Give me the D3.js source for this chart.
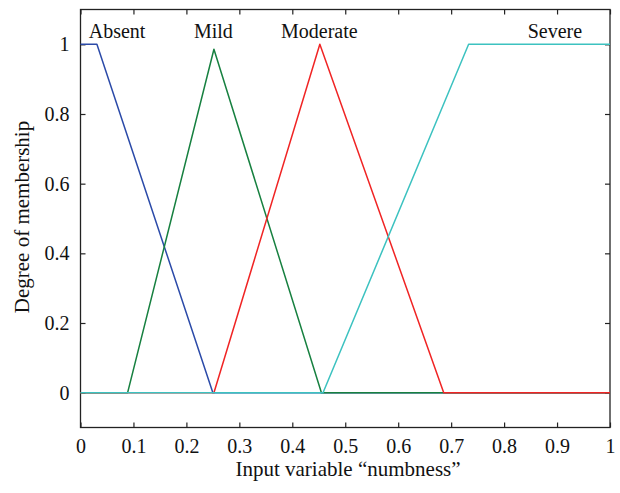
<!DOCTYPE html>
<html>
<head>
<meta charset="utf-8">
<script src="https://cdn.jsdelivr.net/npm/d3@7"></script>
<style>
  html, body { margin: 0; padding: 0; background: #fff; }
  svg { display: block; }
  text { font-family: "Liberation Serif", "DejaVu Serif", serif; fill: #111; }
</style>
</head>
<body>
<svg id="chart" width="620" height="493"></svg>
<script>
// Membership functions of the fuzzy input "numbness": breakpoints [x, degree]
const absent   = [[0, 1], [0.031, 1], [0.25, 0], [1, 0]];
const mild     = [[0, 0], [0.089, 0], [0.252, 0.986], [0.455, 0], [1, 0]];
const moderate = [[0, 0], [0.252, 0], [0.452, 1], [0.686, 0], [1, 0]];
const severe   = [[0, 0], [0.458, 0], [0.733, 1], [1, 1]];

const seriesNames  = ["Absent", "Mild", "Moderate", "Severe"];
const seriesColors = ["#2b4aa8", "#178040", "#f02424", "#3cc2c0"];
const labelX       = [0.069, 0.251, 0.451, 0.896];

const xTicks = [0, 0.1, 0.2, 0.3, 0.4, 0.5, 0.6, 0.7, 0.8, 0.9, 1];
const yTicks = [0, 0.2, 0.4, 0.6, 0.8, 1];

const svg = d3.select("#chart");
const plotL = 80.5, plotR = 610, plotT = 9.5, plotB = 427.5;

const x = d3.scaleLinear().domain([0, 1]).range([plotL, plotR]);
const y = d3.scaleLinear().domain([-0.1, 1.1]).range([plotB, plotT]);

const fs = 20;
const fmt = d => d3.format("")(+d.toFixed(1));

// frame
svg.append("rect")
  .attr("x", plotL).attr("y", plotT)
  .attr("width", plotR - plotL).attr("height", plotB - plotT)
  .attr("fill", "none").attr("stroke", "#222").attr("stroke-width", 1.3);

// axes with inward ticks
const tickLen = 5;
const axB = svg.append("g").attr("transform", `translate(0,${plotB})`)
  .call(d3.axisBottom(x).tickValues(xTicks).tickSize(-tickLen).tickPadding(11).tickFormat(fmt));
const axT = svg.append("g").attr("transform", `translate(0,${plotT})`)
  .call(d3.axisTop(x).tickValues(xTicks).tickSize(-tickLen).tickFormat(""));
const axL = svg.append("g").attr("transform", `translate(${plotL},0)`)
  .call(d3.axisLeft(y).tickValues(yTicks).tickSize(-tickLen).tickPadding(11).tickFormat(fmt));
const axR = svg.append("g").attr("transform", `translate(${plotR},0)`)
  .call(d3.axisRight(y).tickValues(yTicks).tickSize(-tickLen).tickFormat(""));

[axB, axT, axL, axR].forEach(a => {
  a.select(".domain").remove();
  a.selectAll(".tick line").attr("stroke", "#222").attr("stroke-width", 1.2);
  a.selectAll("text").attr("font-size", fs).attr("font-family", null).attr("fill", "#111");
});

// curves
const line = d3.line().x(d => x(d[0])).y(d => y(d[1]));
[absent, mild, moderate, severe].forEach((s, i) => {
  svg.append("path")
    .datum(s)
    .attr("d", line)
    .attr("fill", "none")
    .attr("stroke", seriesColors[i])
    .attr("stroke-width", 1.5)
    .attr("stroke-linejoin", "round");
});

// set names
seriesNames.forEach((n, i) => {
  svg.append("text")
    .attr("x", x(labelX[i])).attr("y", 38)
    .attr("text-anchor", "middle")
    .attr("font-size", fs)
    .text(n);
});

// axis titles
svg.append("text")
  .attr("x", 348).attr("y", 476)
  .attr("text-anchor", "middle").attr("font-size", fs + 1)
  .text("Input variable \u201cnumbness\u201d");

svg.append("text")
  .attr("transform", `translate(29,217) rotate(-90)`)
  .attr("text-anchor", "middle").attr("font-size", fs + 1)
  .text("Degree of membership");
</script>
</body>
</html>
